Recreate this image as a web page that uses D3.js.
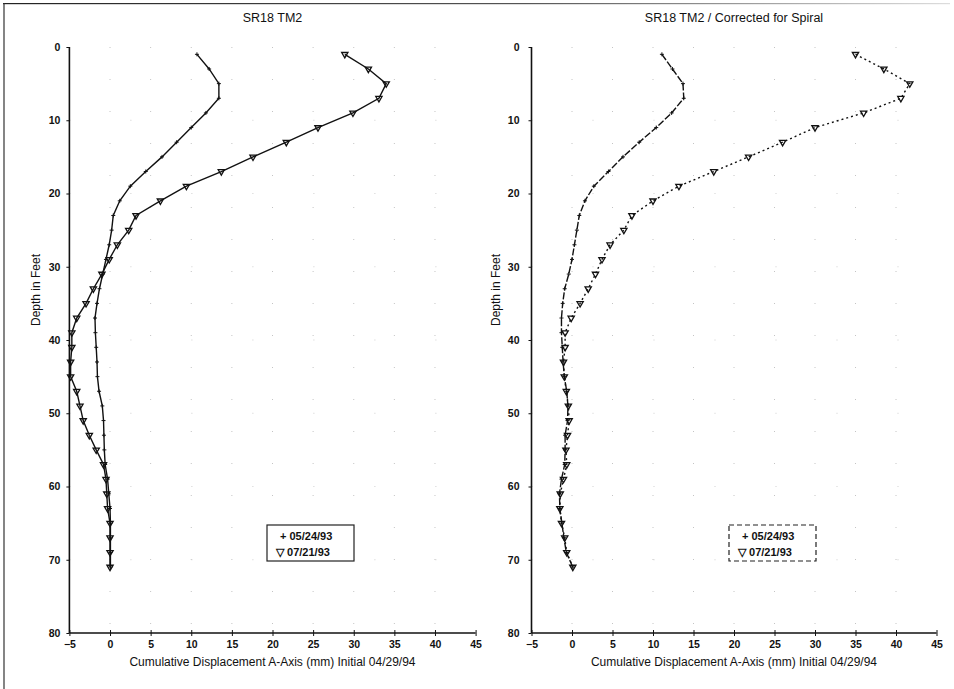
<!DOCTYPE html>
<html>
<head>
<meta charset="utf-8">
<script src="https://cdn.jsdelivr.net/npm/d3@7"></script>
<style>
  body { margin: 0; background: #fff; }
  svg { display: block; }
  text { font-family: "Liberation Sans", Arial, sans-serif; fill: #111; }
</style>
</head>
<body>
<svg id="chart" width="954" height="689"></svg>
<script>
// ---------------- DATA ----------------
const depths = [1,3,5,7,9,11,13,15,17,19,21,23,25,27,29,31,33,35,37,39,41,43,45,47,49,51,53,55,57,59,61,63,65,67,69,71];

const leftSeries1 = [10.7,12.2,13.4,13.4,11.8,10.0,8.2,6.4,4.4,2.5,1.2,0.4,0.2,-0.1,-0.5,-0.9,-1.3,-1.6,-1.85,-1.8,-1.7,-1.6,-1.55,-1.35,-0.95,-0.8,-0.75,-0.7,-0.6,-0.3,-0.15,0.0,0.05,0.05,0.05,0.05];
const leftSeries2 = [28.9,31.8,34.0,33.1,29.9,25.6,21.7,17.6,13.7,9.4,6.2,3.2,2.3,0.9,-0.1,-1.0,-2.05,-2.95,-4.1,-4.7,-4.7,-4.85,-4.85,-4.1,-3.7,-3.3,-2.55,-1.7,-0.8,-0.5,-0.4,-0.3,0.0,0.0,0.0,0.0];

const rightSeries1 = [11.1,12.4,13.7,13.8,12.3,10.4,8.3,6.3,4.5,2.7,1.6,0.9,0.6,0.3,0.0,-0.4,-0.9,-1.15,-1.3,-1.3,-1.2,-1.1,-0.95,-0.65,-0.5,-0.55,-0.85,-0.85,-0.9,-1.3,-1.55,-1.5,-1.25,-1.0,-0.7,0.1];
const rightSeries2 = [35.0,38.5,41.7,40.6,36.0,30.0,26.0,21.8,17.5,13.2,10.0,7.4,6.4,4.7,3.7,2.9,2.0,1.0,-0.1,-0.85,-0.85,-1.05,-0.95,-0.7,-0.45,-0.35,-0.55,-0.75,-0.65,-1.05,-1.45,-1.5,-1.3,-0.9,-0.65,0.1];

const seriesNames = ["05/24/93", "07/21/93"];
const xTicks = [-5,0,5,10,15,20,25,30,35,40,45];
const yTicks = [0,10,20,30,40,50,60,70,80];
const titles = ["SR18  TM2", "SR18  TM2 / Corrected for Spiral"];
const xTitle = "Cumulative Displacement A-Axis (mm) Initial 04/29/94";
const yTitle = "Depth in Feet";

// ---------------- DRAW ----------------
const svg = d3.select("#chart");
const tickFont = "'Liberation Sans Narrow','Liberation Sans',Arial,sans-serif";

// scan frame lines
const defs = svg.append("defs");
const grad = defs.append("linearGradient").attr("id", "fade").attr("x1", "0").attr("x2", "1");
grad.append("stop").attr("offset", "0").attr("stop-color", "#222");
grad.append("stop").attr("offset", "0.55").attr("stop-color", "#555");
grad.append("stop").attr("offset", "1").attr("stop-color", "#ddd");
svg.append("rect").attr("x", 3).attr("y", 3).attr("width", 947).attr("height", 1.2).attr("fill", "url(#fade)");
svg.append("line").attr("x1", 4).attr("x2", 4).attr("y1", 3).attr("y2", 689)
  .attr("stroke", "#333").attr("stroke-width", 1.2);

function panel(cfg) {
  const x = d3.scaleLinear().domain([-5, 45]).range([cfg.x0, cfg.x1]);
  const y = d3.scaleLinear().domain([0, 80]).range([47, 633]);
  const g = svg.append("g");

  // sparse faint grid (scan remnants)
  g.append("g").selectAll("line").data(xTicks.slice(1, -1)).join("line")
    .attr("x1", d => x(d)).attr("x2", d => x(d)).attr("y1", y(0)).attr("y2", y(80))
    .attr("stroke", "#c4c4c4").attr("stroke-width", 1).attr("stroke-dasharray", "1,31");
  g.append("g").selectAll("line").data(yTicks.slice(1, -1)).join("line")
    .attr("x1", x(-5)).attr("x2", x(45)).attr("y1", d => y(d)).attr("y2", d => y(d))
    .attr("stroke", "#d0d0d0").attr("stroke-width", 1).attr("stroke-dasharray", "1,60");

  // axes
  const ax = g.append("g").attr("transform", `translate(0,${y(80)})`)
    .call(d3.axisBottom(x).tickValues(xTicks).tickSize(4).tickPadding(2).tickFormat(d3.format("d")));
  ax.select(".domain").attr("stroke", "#111").attr("stroke-width", 1.6).attr("d", `M${x(-5)},0H${x(45)}`);
  ax.selectAll(".tick line").attr("stroke", "#111").attr("y1", -3).attr("y2", 3);
  ax.selectAll(".tick text").attr("font-size", 10.5).attr("font-weight", "bold").attr("dy", "0.85em")
    .style("font-family", tickFont);

  const ay = g.append("g").attr("transform", `translate(${x(-5)},0)`)
    .call(d3.axisLeft(y).tickValues(yTicks).tickSize(3).tickPadding(cfg.pad).tickFormat(d3.format("d")));
  ay.select(".domain").attr("stroke", "#111").attr("stroke-width", 1.6).attr("d", `M0,${y(0)}V${y(80)}`);
  ay.selectAll(".tick line").attr("stroke", "#111");
  ay.selectAll(".tick text").attr("font-size", 10.5).attr("font-weight", "bold")
    .style("font-family", tickFont);

  // titles
  g.append("text").attr("x", (cfg.x0 + cfg.x1) / 2).attr("y", 22).attr("text-anchor", "middle")
    .attr("font-size", 12.5).text(cfg.title);
  g.append("text").attr("x", (cfg.x0 + cfg.x1) / 2).attr("y", 666).attr("text-anchor", "middle")
    .attr("font-size", 12).text(xTitle);
  g.append("text").attr("transform", `translate(${cfg.ytx},290) rotate(-90)`).attr("text-anchor", "middle")
    .attr("font-size", 12).text(yTitle);

  // series lines
  const line = d3.line().x(d => x(d[0])).y(d => y(d[1]));
  const s1 = cfg.s1.map((v, i) => [v, depths[i]]);
  const s2 = cfg.s2.map((v, i) => [v, depths[i]]);
  g.append("path").datum(s1).attr("d", line).attr("fill", "none").attr("stroke", "#111")
    .attr("stroke-width", 1.4).attr("stroke-dasharray", cfg.dash1);
  g.append("path").datum(s2).attr("d", line).attr("fill", "none").attr("stroke", "#111")
    .attr("stroke-width", 1.4).attr("stroke-dasharray", cfg.dash2);

  // markers: plus for series 1
  g.append("g").selectAll("path").data(s1).join("path")
    .attr("d", d => `M${x(d[0]) - 2},${y(d[1])}h4M${x(d[0])},${y(d[1]) - 2}v4`)
    .attr("stroke", "#111").attr("stroke-width", 1);
  // markers: open down-triangles for series 2
  const tri = d3.symbol().type(d3.symbolTriangle).size(17);
  g.append("g").selectAll("path").data(s2).join("path")
    .attr("d", tri)
    .attr("transform", d => `translate(${x(d[0])},${y(d[1])}) rotate(180)`)
    .attr("fill", "none").attr("stroke", "#111").attr("stroke-width", 1.3);

  // legend
  const lg = g.append("g").attr("transform", `translate(${cfg.lx},525)`);
  lg.append("rect").attr("width", 87).attr("height", 36).attr("fill", "#fff")
    .attr("stroke", "#222").attr("stroke-width", 1.2).attr("stroke-dasharray", cfg.legDash);
  lg.append("text").attr("x", 13).attr("y", 15).attr("font-size", 11).attr("font-weight", "bold")
    .style("font-family", tickFont)
    .text("+ " + seriesNames[0]);
  lg.append("text").attr("x", 9).attr("y", 31).attr("font-size", 11).attr("font-weight", "bold")
    .style("font-family", tickFont)
    .text("\u25BD " + seriesNames[1]);
}

panel({ x0: 69.4, x1: 475.6, pad: 6, ytx: 40, title: titles[0], s1: leftSeries1, s2: leftSeries2,
        dash1: null, dash2: null, lx: 267, legDash: null });
panel({ x0: 531.5, x1: 936.5, pad: 9, ytx: 500, title: titles[1], s1: rightSeries1, s2: rightSeries2,
        dash1: "7,2", dash2: "2,3", lx: 729, legDash: "5,3" });
</script>
</body>
</html>
